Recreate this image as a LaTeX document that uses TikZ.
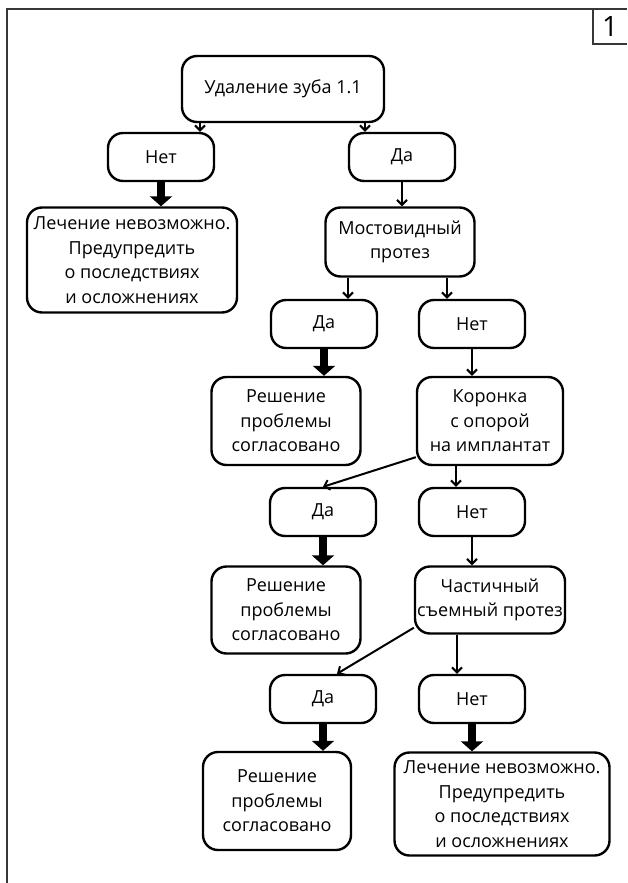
\documentclass[tikz,border=0pt]{standalone}
\usepackage{fontspec}
\setmainfont{Open Sans}
\usetikzlibrary{arrows.meta,calc}
\definecolor{framegray}{RGB}{55,55,55}

\begin{document}
\begin{tikzpicture}[x=1pt,y=-1pt,>={Straight Barb[length=5pt,width=10pt]},
    rbox/.style={draw,line width=2.4pt,rounded corners=15pt,align=center,inner sep=0pt,
      font=\fontsize{18}{24.5}\selectfont},
    choice/.style={rbox,minimum width=106pt,minimum height=48pt},
    link/.style={->,line width=2pt},
    bigarrow/.style={-{Triangle[length=10pt,width=22pt]},line width=8.5pt}]
    \useasboundingbox (0,0) rectangle (627,883);

    % Frame and page number
    \draw[framegray,line width=1.3pt] (7,883)--(7,9)--(627,9);
    \draw[framegray,line width=1.3pt] (593,9)--(593,44)--(627,44);
    \node[font=\fontsize{28}{28}\selectfont] (num) at (610,27) {1};

    % Start
    \node[rbox,minimum width=202pt,minimum height=66pt] (del) at (283,89) {Удаление зуба 1.1};

    % Yes / no answers
    \foreach \n/\t/\x/\y in {no0/Нет/161/157, yes0/Да/402/157,
                             yes1/Да/324/324, no1/Нет/472/324,
                             yes2/Да/323/512, no2/Нет/472/512,
                             yes3/Да/323/699, no3/Нет/472/699}
        \node[choice] (\n) at (\x,\y) {\t};

    % Outcomes
    \node[rbox,minimum width=210pt,minimum height=105pt] (imp1) at (132,260)
        {Лечение невозможно.\\Предупредить\\о последствиях\\и осложнениях};
    \node[rbox,minimum width=149pt,minimum height=69pt] (bridge) at (400,242)
        {Мостовидный\\протез};
    \node[rbox,minimum width=149pt,minimum height=88pt] (ok1) at (286,421)
        {Решение\\проблемы\\согласовано};
    \node[rbox,minimum width=146pt,minimum height=88pt] (crown) at (490,421)
        {Коронка\\с опорой\\на имплантат};
    \node[rbox,minimum width=149pt,minimum height=87pt] (ok2) at (286,610)
        {Решение\\проблемы\\согласовано};
    \node[rbox,minimum width=150pt,minimum height=67pt] (partial) at (490,600)
        {Частичный\\съемный протез};
    \node[rbox,minimum width=148pt,minimum height=98pt] (ok3) at (277,801)
        {Решение\\проблемы\\согласовано};
    \node[rbox,minimum width=215pt,minimum height=103pt] (imp2) at (502,804)
        {Лечение невозможно.\\Предупредить\\о последствиях\\и осложнениях};

    % Thin arrows
    \draw[link] ([xshift=-83pt]del.south) -- ([xshift=-83pt]del.south |- no0.north);
    \draw[link] ([xshift=82pt]del.south) -- ([xshift=82pt]del.south |- yes0.north);
    \draw[link] (yes0.south) -- (yes0.south |- bridge.north);
    \draw[link] ([xshift=-52pt]bridge.south) -- ([xshift=-52pt]bridge.south |- yes1.north);
    \draw[link] ([xshift=47pt]bridge.south) -- ([xshift=47pt]bridge.south |- no1.north);
    \draw[link] (no1.south) -- (no1.south |- crown.north);
    \draw[link] (crown.206) -- (yes2.north);
    \draw[link] ([xshift=-34pt]crown.south) -- ([xshift=-34pt]crown.south |- no2.north);
    \draw[link] (no2.south) -- (no2.south |- partial.north);
    \draw[link] (partial.200) -- ([xshift=14pt]yes3.north);
    \draw[link] ([xshift=-33pt]partial.south) -- ([xshift=-33pt]partial.south |- no3.north);

    % Thick arrows
    \draw[bigarrow] (no0.south) -- (no0.south |- imp1.north);
    \draw[bigarrow] (yes1.south) -- (yes1.south |- ok1.north);
    \draw[bigarrow] (yes2.south) -- (yes2.south |- ok2.north);
    \draw[bigarrow] (yes3.south) -- (yes3.south |- ok3.north);
    \draw[bigarrow] (no3.south) -- (no3.south |- imp2.north);
\end{tikzpicture}
\end{document}
